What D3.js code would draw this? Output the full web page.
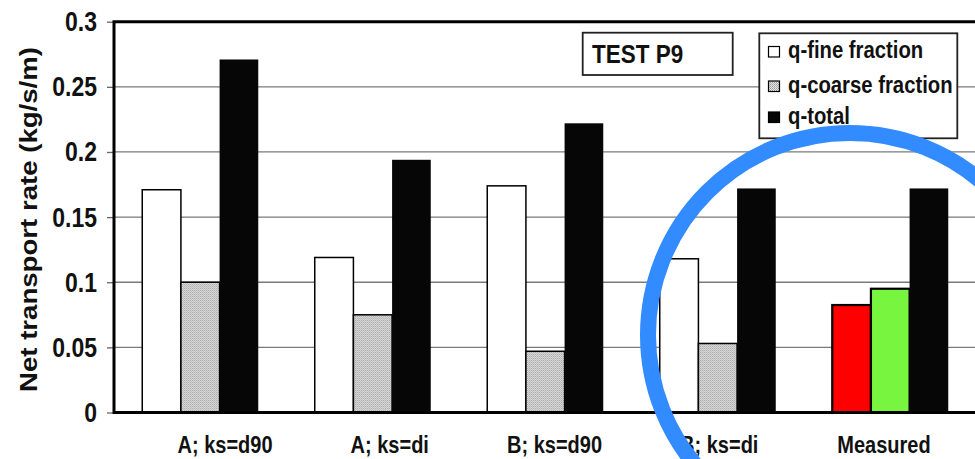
<!DOCTYPE html>
<html>
<head>
<meta charset="utf-8">
<script src="https://cdn.jsdelivr.net/npm/d3@7"></script>
<style>
  html, body { margin: 0; padding: 0; background: #fff; }
  svg { display: block; }
  text { font-family: "Liberation Sans", Arial, sans-serif; font-weight: bold; fill: #111; }
</style>
</head>
<body>
<svg id="chart" width="975" height="459"></svg>
<script>
// Net transport rates per model run (kg/s/m)
const categories   = ["A; ks=d90", "A; ks=di", "B; ks=d90", "B; ks=di", "Measured"];
const seriesNames  = ["q-fine fraction", "q-coarse fraction", "q-total"];
const fineValues   = [0.171, 0.119, 0.174, 0.118, 0.0825];
const coarseValues = [0.100, 0.075, 0.047, 0.053, 0.095];
const totalValues  = [0.271, 0.194, 0.222, 0.172, 0.172];
const yTickValues  = [0, 0.05, 0.1, 0.15, 0.2, 0.25, 0.3];
const yTickLabels  = ["0", "0.05", "0.1", "0.15", "0.2", "0.25", "0.3"];
const highlightCategory = "Measured";
const highlightFills = ["#ff0000", "#77f53f"];
const panelLabel = "TEST P9";
const yTitle = "Net transport rate (kg/s/m)";

const svg = d3.select("#chart");
const W = 975, H = 459;
const plot = { left: 114, right: 976.5, top: 21.7, bottom: 412.5 };

// scanned-figure look: glyphs are a little taller than wide
const STRETCH = 1.18;

const defs = svg.append("defs");
const pat = defs.append("pattern").attr("id", "stipple")
  .attr("width", 2).attr("height", 2).attr("patternUnits", "userSpaceOnUse");
pat.append("rect").attr("width", 2).attr("height", 2).attr("fill", "#e6e6e6");
pat.append("rect").attr("width", 1).attr("height", 1).attr("fill", "#9a9a9a");
pat.append("rect").attr("x", 1).attr("y", 1).attr("width", 1).attr("height", 1).attr("fill", "#b4b4b4");

const seriesFills = ["#ffffff", "url(#stipple)", "#060606"];
const seriesValues = [fineValues, coarseValues, totalValues];

const y = d3.scaleLinear().domain([0, 0.3]).range([plot.bottom, plot.top]);
const x = d3.scaleBand().domain(categories)
  .range([plot.left, plot.right])
  .paddingInner(0.3275).paddingOuter(0.16375);
const xs = d3.scaleBand().domain(seriesNames).range([0, x.bandwidth()]);
const labelX = d3.scalePoint().domain(categories).range([225, 884]);

function stretchedText(parent, px, py, str, size, anchor) {
  const g = parent.append("g").attr("transform", `translate(${px},${py}) scale(1,${STRETCH})`);
  return g.append("text").attr("text-anchor", anchor || "start")
    .style("font-size", size + "px").text(str);
}

// gridlines
svg.append("g").selectAll("line").data(yTickValues.filter(d => d > 0 && d < 0.3)).join("line")
  .attr("x1", plot.left).attr("x2", W + 10)
  .attr("y1", d => y(d)).attr("y2", d => y(d))
  .attr("stroke", "#7a7a7a").attr("stroke-width", 1.3);

// y axis ticks
const yAxis = d3.axisLeft(y).tickValues(yTickValues).tickSize(7).tickFormat(() => "");
const yg = svg.append("g").attr("transform", `translate(${plot.left},0)`).call(yAxis);
yg.select(".domain").remove();
yg.selectAll(".tick line").attr("stroke", "#666").attr("stroke-width", 1.3);

yTickValues.forEach((v, i) => {
  stretchedText(svg, 97, y(v) + 9.5, yTickLabels[i], 23, "end");
});

// bars
const rows = categories.map((c, i) => ({ c, vals: seriesValues.map(s => s[i]) }));
const groups = svg.append("g").selectAll("g").data(rows).join("g")
  .attr("transform", d => `translate(${x(d.c)},0)`);
groups.selectAll("rect").data(d => d.vals.map((v, j) => ({ v, j, c: d.c }))).join("rect")
  .attr("x", d => xs(seriesNames[d.j]))
  .attr("width", xs.bandwidth())
  .attr("y", d => y(d.v))
  .attr("height", d => y(0) - y(d.v))
  .attr("fill", d => (d.c === highlightCategory && d.j < 2) ? highlightFills[d.j] : seriesFills[d.j])
  .attr("stroke", d => d.j === 2 ? "none" : "#000")
  .attr("stroke-width", d => (d.c === highlightCategory && d.j < 2) ? 2.2 : 1.5);

// plot frame (left, top, bottom)
const frame = svg.append("g").attr("stroke", "#000").attr("stroke-width", 3).attr("fill", "none");
frame.append("path").attr("d", `M${W + 10},${plot.top}H${plot.left}V${plot.bottom}H${W + 10}`);

// category labels
categories.forEach(c => stretchedText(svg, labelX(c), 453, c, 20, "middle"));

// y axis title
svg.append("g").attr("transform", `translate(37,219.5) rotate(-90)`)
  .append("text").attr("text-anchor", "middle")
  .attr("textLength", 345).attr("lengthAdjust", "spacingAndGlyphs")
  .style("font-size", "23px").text(yTitle);

// panel label box
svg.append("rect").attr("x", 582.7).attr("y", 32.7).attr("width", 150).attr("height", 42.3)
  .attr("fill", "#fff").attr("stroke", "#222").attr("stroke-width", 1.8);
stretchedText(svg, 592, 62.7, panelLabel, 22.5, "start");

// legend
const lg = svg.append("g");
lg.append("rect").attr("x", 759.3).attr("y", 33.3).attr("width", 198).attr("height", 105)
  .attr("fill", "#fff").attr("stroke", "#222").attr("stroke-width", 1.8);
const legendBase = [58, 92.5, 123.5];
seriesNames.forEach((name, i) => {
  lg.append("rect").attr("x", 768.5).attr("y", legendBase[i] - 11.5).attr("width", 11).attr("height", 10.5)
    .attr("fill", seriesFills[i]).attr("stroke", "#000").attr("stroke-width", 1.2);
  stretchedText(lg, 788, legendBase[i], name, 20.3, "start");
});

// highlight ring around the measured result
svg.append("circle").attr("cx", 850).attr("cy", 335).attr("r", 202)
  .attr("fill", "none").attr("stroke", "#338cff").attr("stroke-width", 16);
</script>
</body>
</html>
